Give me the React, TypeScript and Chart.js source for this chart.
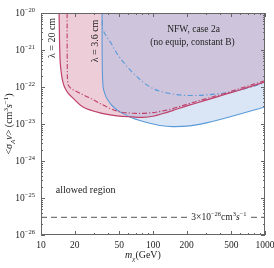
import React, { useEffect, useRef } from "react";
import { Chart, registerables } from "chart.js";

Chart.register(...registerables);

// Mass values (GeV) and log10(<sigma v>) values
const redSolidM = [14.5, 14.8, 15.3, 15.8, 16.5, 17.6, 19.3, 23.7, 33.6, 47.7, 66, 80, 100, 125, 151, 210, 303, 430, 598, 1000];
const redSolidLog = [-20.0, -21.27, -21.7, -21.9, -22.05, -22.18, -22.3, -22.54, -22.7, -22.78, -22.81, -22.82, -22.79, -22.71, -22.63, -22.49, -22.35, -22.21, -22.08, -21.86];

const redDashM = [17.1, 17.15, 17.4, 18.4, 20.1, 27.4, 38.8, 50.7, 66, 94, 125, 151, 210, 303, 430, 598, 1000];
const redDashLog = [-20.0, -21.27, -21.92, -22.03, -22.1, -22.3, -22.54, -22.67, -22.71, -22.7, -22.64, -22.58, -22.45, -22.31, -22.18, -22.04, -21.83];

const blueSolidM = [35.1, 35.2, 35.8, 37.3, 39.6, 43, 47.7, 54, 62.4, 75, 94, 115, 150, 214, 300, 421, 1000];
const blueSolidLog = [-20.0, -21.27, -21.98, -22.2, -22.36, -22.5, -22.62, -22.72, -22.81, -22.9, -22.98, -23.04, -23.07, -23.05, -22.97, -22.86, -22.54];

const blueDashM = [35.3, 35.8, 43.1, 48.7, 66.3, 94, 133, 214, 421, 598, 1000];
const blueDashLog = [-20.2, -20.46, -20.86, -21.14, -21.62, -22.0, -22.16, -22.23, -22.17, -22.08, -21.89];

const thermalM = [10, 1000];
const thermalValue = 3e-26;

const xTickValues = [10, 20, 50, 100, 200, 500, 1000];
const yTickExps = [-20, -21, -22, -23, -24, -25, -26];

const FONT = '"Liberation Serif", "Times New Roman", serif';

type Seg = { t: string; size: number; dy?: number; italic?: boolean };

function richWidth(ctx: CanvasRenderingContext2D, segs: Seg[]) {
  let w = 0;
  for (const s of segs) {
    ctx.font = `${s.italic ? "italic " : ""}${s.size}px ${FONT}`;
    w += ctx.measureText(s.t).width;
  }
  return w;
}

function drawRich(ctx: CanvasRenderingContext2D, segs: Seg[], x: number, y: number, align: "left" | "center" | "right") {
  const w = richWidth(ctx, segs);
  let cx = align === "left" ? x : align === "center" ? x - w / 2 : x - w;
  ctx.textAlign = "left";
  ctx.textBaseline = "alphabetic";
  for (const s of segs) {
    ctx.font = `${s.italic ? "italic " : ""}${s.size}px ${FONT}`;
    ctx.fillText(s.t, cx, y + (s.dy || 0));
    cx += ctx.measureText(s.t).width;
  }
  return w;
}

const pts = (ms: number[], logs: number[]) => ms.map((m, i) => ({ x: m, y: Math.pow(10, logs[i]) }));

const supNeg = (n: number) => "\u2212" + String(Math.abs(n));

const decorPlugin = {
  id: "decor",
  afterDatasetsDraw(chart: any) {
    const ctx: CanvasRenderingContext2D = chart.ctx;
    const xs = chart.scales.x;
    const ys = chart.scales.y;
    const { left, right, top, bottom } = chart.chartArea;
    ctx.save();

    ctx.fillStyle = "#222";
    const ty = ys.getPixelForValue(thermalValue);
    const thermSegs: Seg[] = [
      { t: "3\u00d710", size: 9.5 },
      { t: supNeg(-26), size: 6.5, dy: -4 },
      { t: "cm", size: 9.5 },
      { t: "3", size: 6.5, dy: -4 },
      { t: "s", size: 9.5, italic: true },
      { t: supNeg(-1), size: 6.5, dy: -4 },
    ];
    const tw = richWidth(ctx, thermSegs);
    const tx0 = xs.getPixelForValue(220);
    ctx.fillStyle = "#fff";
    ctx.fillRect(tx0 - 1.5, ty - 7, tw + 3, 12);
    ctx.fillStyle = "#222";
    drawRich(ctx, thermSegs, tx0, ty + 3, "left");

    drawRich(ctx, [{ t: "allowed region", size: 10 }], xs.getPixelForValue(25), ys.getPixelForValue(1.6e-25) + 3, "center");
    drawRich(ctx, [{ t: "NFW, case 2a", size: 9.5 }], xs.getPixelForValue(230), ys.getPixelForValue(3.6e-21) + 3, "center");
    drawRich(ctx, [{ t: "(no equip, constant B)", size: 9.5 }], xs.getPixelForValue(225), ys.getPixelForValue(1.6e-21) + 3, "center");

    const rot = (segs: Seg[], x: number, y: number) => {
      ctx.save();
      ctx.translate(x, y);
      ctx.rotate(-Math.PI / 2);
      drawRich(ctx, segs, 0, 3.5, "center");
      ctx.restore();
    };
    rot([{ t: "\u03bb = 20 cm", size: 10 }], 51, 38);
    rot([{ t: "\u03bb = 3.6 cm", size: 10 }], 94, 41);

    ctx.strokeStyle = "#666";
    ctx.lineWidth = 1;
    ctx.strokeRect(left + 0.5, top + 0.5, right - left - 1, bottom - top - 1);

    ctx.beginPath();
    for (let d = 10; d < 1000; d *= 10) {
      for (let k = 1; k <= 10; k++) {
        const v = k * d;
        if (v > 1000) break;
        const px = Math.round(xs.getPixelForValue(v)) + 0.5;
        const major = xTickValues.indexOf(v) >= 0;
        const len = major ? 4 : 2;
        ctx.moveTo(px, bottom);
        ctx.lineTo(px, bottom - len);
        ctx.moveTo(px, top);
        ctx.lineTo(px, top + len);
      }
    }
    for (let e = -26; e <= -20; e++) {
      for (let k = 1; k <= 9; k++) {
        if (e === -20 && k > 1) break;
        const v = k * Math.pow(10, e);
        const py = Math.round(ys.getPixelForValue(v)) + 0.5;
        const len = k === 1 ? 4 : 2;
        ctx.moveTo(left, py);
        ctx.lineTo(left + len, py);
        ctx.moveTo(right, py);
        ctx.lineTo(right - len, py);
      }
    }
    ctx.stroke();

    ctx.fillStyle = "#222";
    for (const v of xTickValues) {
      drawRich(ctx, [{ t: String(v), size: 9.5 }], xs.getPixelForValue(v), bottom + 13, "center");
    }
    for (const e of yTickExps) {
      const py = ys.getPixelForValue(Math.pow(10, e));
      drawRich(ctx, [{ t: "10", size: 9.5 }, { t: supNeg(e), size: 6.5, dy: -4 }], left - 6, py + 3, "right");
    }

    drawRich(
      ctx,
      [
        { t: "m", size: 10, italic: true },
        { t: "\u03c7", size: 7, dy: 2.5, italic: true },
        { t: "(GeV)", size: 10 },
      ],
      143,
      258,
      "center"
    );
    ctx.save();
    ctx.translate(12, (top + bottom) / 2);
    ctx.rotate(-Math.PI / 2);
    drawRich(
      ctx,
      [
        { t: "<", size: 10 },
        { t: "\u03c3", size: 10, italic: true },
        { t: "A", size: 7, dy: 2.5, italic: true },
        { t: "v", size: 10, italic: true },
        { t: "> (cm", size: 10 },
        { t: "3", size: 7, dy: -4 },
        { t: "s", size: 10, italic: true },
        { t: supNeg(-1), size: 7, dy: -4 },
        { t: ")", size: 10 },
      ],
      0,
      0,
      "center"
    );
    ctx.restore();

    ctx.restore();
  },
};

export default function App() {
  const ref = useRef<HTMLCanvasElement | null>(null);
  useEffect(() => {
    if (!ref.current) return;
    const red = "#bf4069";
    const blue = "#5b9ad9";
    const T = 0.35;
    const chart = new Chart(ref.current, {
      type: "scatter",
      data: {
        datasets: [
          { data: pts(redSolidM, redSolidLog), showLine: true, borderColor: red, borderWidth: 1.2, pointRadius: 0, fill: false, tension: T, order: 0 } as any,
          { data: pts(redDashM, redDashLog), showLine: true, borderColor: red, borderWidth: 1.1, borderDash: [5, 2, 1.2, 2], pointRadius: 0, fill: false, tension: T, order: 0 } as any,
          { data: pts(blueSolidM, blueSolidLog), showLine: true, borderColor: blue, borderWidth: 1.1, pointRadius: 0, fill: false, tension: T, order: 0 } as any,
          { data: pts(blueDashM, blueDashLog), showLine: true, borderColor: blue, borderWidth: 1.1, borderDash: [5, 2.5, 1.2, 2.5], pointRadius: 0, fill: false, tension: T, order: 0 } as any,
          { data: thermalM.map((m) => ({ x: m, y: thermalValue })), showLine: true, borderColor: "#777", borderWidth: 1.2, borderDash: [6, 4], pointRadius: 0, fill: false, order: 0 } as any,
          { data: pts(blueSolidM, blueSolidLog), showLine: true, borderWidth: 0, borderColor: "rgba(0,0,0,0)", backgroundColor: "rgba(144,180,228,0.33)", pointRadius: 0, fill: "end", tension: T, order: 1 } as any,
          { data: pts(redSolidM, redSolidLog), showLine: true, borderWidth: 0, borderColor: "rgba(0,0,0,0)", backgroundColor: "rgba(210,130,157,0.4)", pointRadius: 0, fill: "end", tension: T, order: 2 } as any,
        ],
      },
      options: {
        responsive: false,
        animation: false,
        devicePixelRatio: 1,
        layout: { padding: { left: 41, right: 9, top: 13, bottom: 33 } },
        scales: {
          x: { type: "logarithmic", min: 10, max: 1000, display: false },
          y: { type: "logarithmic", min: 1e-26, max: 1e-20, display: false },
        },
        plugins: { legend: { display: false }, tooltip: { enabled: false } },
        events: [],
      },
      plugins: [decorPlugin],
    });
    return () => chart.destroy();
  }, []);
  return (
    <div style={{ position: "fixed", left: 0, top: 0, width: 274, height: 268, background: "#fff" }}>
      <canvas ref={ref} width={274} height={268} style={{ display: "block" }} />
    </div>
  );
}
